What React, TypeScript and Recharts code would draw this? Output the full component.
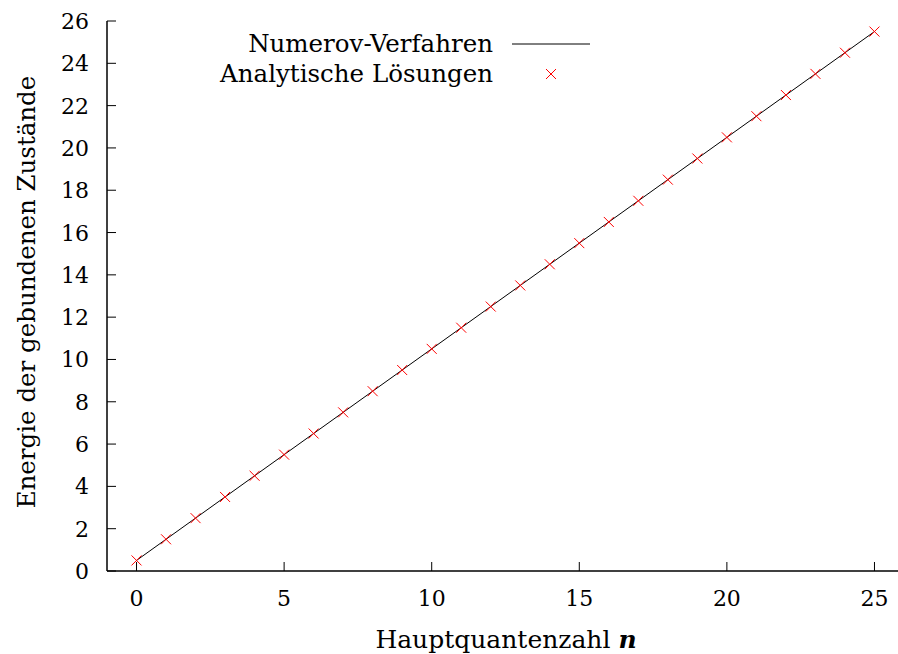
import React from 'react';
import { ComposedChart, Scatter, XAxis, YAxis, Customized } from 'recharts';

const quantumNumbers = [0, 1, 2, 3, 4, 5, 6, 7, 8, 9, 10, 11, 12, 13, 14, 15, 16, 17, 18, 19, 20, 21, 22, 23, 24, 25];
const numerovEnergies = [0.5, 1.5, 2.5, 3.5, 4.5, 5.5, 6.5, 7.5, 8.5, 9.5, 10.5, 11.5, 12.5, 13.5, 14.5, 15.5, 16.5, 17.5, 18.5, 19.5, 20.5, 21.5, 22.5, 23.5, 24.5, 25.5];
const analyticEnergies = [0.5, 1.5, 2.5, 3.5, 4.5, 5.5, 6.5, 7.5, 8.5, 9.5, 10.5, 11.5, 12.5, 13.5, 14.5, 15.5, 16.5, 17.5, 18.5, 19.5, 20.5, 21.5, 22.5, 23.5, 24.5, 25.5];
const xTicks = [0, 5, 10, 15, 20, 25];
const yTicks = [0, 2, 4, 6, 8, 10, 12, 14, 16, 18, 20, 22, 24, 26];
const xLabel = 'Hauptquantenzahl';
const xLabelVar = 'n';
const yLabel = 'Energie der gebundenen Zustände';
const seriesNames = ['Numerov-Verfahren', 'Analytische Lösungen'];

const FONT = '"DejaVu Serif", serif';
const RED = '#ff0000';
const TICK_LEN = 9;

const numerovData = quantumNumbers.map((n, i) => ({ n, E: numerovEnergies[i] }));
const analyticData = quantumNumbers.map((n, i) => ({ n, E: analyticEnergies[i] }));

const BottomTick = (props: any) => {
  const { x, y, payload } = props;
  return (
    <g>
      <line x1={x} y1={y} x2={x} y2={y - TICK_LEN} stroke="#000" strokeWidth={1} />
      <text x={x} y={y + 35} textAnchor="middle" fontFamily={FONT} fontSize={22} fill="#000">
        {payload.value}
      </text>
    </g>
  );
};

const TopTick = (props: any) => {
  const { x, y } = props;
  return <line x1={x} y1={y} x2={x} y2={y + TICK_LEN} stroke="#000" strokeWidth={1} />;
};

const LeftTick = (props: any) => {
  const { x, y, payload } = props;
  return (
    <g>
      <line x1={x} y1={y} x2={x + TICK_LEN} y2={y} stroke="#000" strokeWidth={1} />
      <text x={x - 18} y={y + 8} textAnchor="end" fontFamily={FONT} fontSize={22} fill="#000">
        {payload.value}
      </text>
    </g>
  );
};

const Cross = (props: any) => {
  const { cx, cy } = props;
  const s = 5;
  return (
    <g>
      <line x1={cx - s} y1={cy - s} x2={cx + s} y2={cy + s} stroke={RED} strokeWidth={1} />
      <line x1={cx - s} y1={cy + s} x2={cx + s} y2={cy - s} stroke={RED} strokeWidth={1} />
    </g>
  );
};

const NoDot = () => <g />;

const LegendAndLabels = () => (
  <g>
    <text x={493} y={52} textAnchor="end" fontFamily={FONT} fontSize={24.5} fill="#000">{seriesNames[0]}</text>
    <line x1={512} y1={44} x2={590} y2={44} stroke="#000" strokeWidth={1} />
    <text x={493} y={82} textAnchor="end" fontFamily={FONT} fontSize={24.5} fill="#000">{seriesNames[1]}</text>
    <Cross cx={551} cy={74} />
    <text x={506} y={648} textAnchor="middle" fontFamily={FONT} fontSize={25} fill="#000">
      {xLabel} <tspan fontStyle="italic" fontWeight="bold">{xLabelVar}</tspan>
    </text>
    <text x={0} y={0} transform="translate(35,292) rotate(-90)" textAnchor="middle" fontFamily={FONT} fontSize={24.5} fill="#000">
      {yLabel}
    </text>
  </g>
);

export default function App() {
  return (
    <div style={{ position: 'absolute', left: 0, top: 0, width: 898, height: 654, overflow: 'hidden', background: '#fff' }}>
      <ComposedChart width={910} height={654} margin={{ top: 21, right: 6, left: 0, bottom: 0 }}>
        <XAxis
          xAxisId="b"
          dataKey="n"
          type="number"
          domain={[-1, 26]}
          ticks={xTicks}
          orientation="bottom"
          height={83}
          tickSize={0}
          tickMargin={0}
          tickLine={false}
          tick={<BottomTick />}
          axisLine={{ stroke: '#000', strokeWidth: 1.5 }}
          allowDataOverflow
        />
        <XAxis
          xAxisId="t"
          dataKey="n"
          type="number"
          domain={[-1, 26]}
          ticks={xTicks}
          orientation="top"
          height={0}
          tickSize={0}
          tickMargin={0}
          tickLine={false}
          tick={<TopTick />}
          axisLine={{ stroke: '#000', strokeWidth: 1.5 }}
          allowDataOverflow
        />
        <YAxis
          dataKey="E"
          type="number"
          domain={[0, 26]}
          ticks={yTicks}
          width={107}
          tickSize={0}
          tickMargin={0}
          tickLine={false}
          tick={<LeftTick />}
          axisLine={{ stroke: '#000', strokeWidth: 1.5 }}
          allowDataOverflow
        />
        <Scatter
          xAxisId="b"
          data={numerovData}
          dataKey="E"
          line={{ stroke: '#000', strokeWidth: 1 }}
          shape={<NoDot />}
          isAnimationActive={false}
        />
        <Scatter
          xAxisId="b"
          data={analyticData}
          dataKey="E"
          shape={<Cross />}
          isAnimationActive={false}
        />
        <Customized component={<LegendAndLabels />} />
      </ComposedChart>
    </div>
  );
}
